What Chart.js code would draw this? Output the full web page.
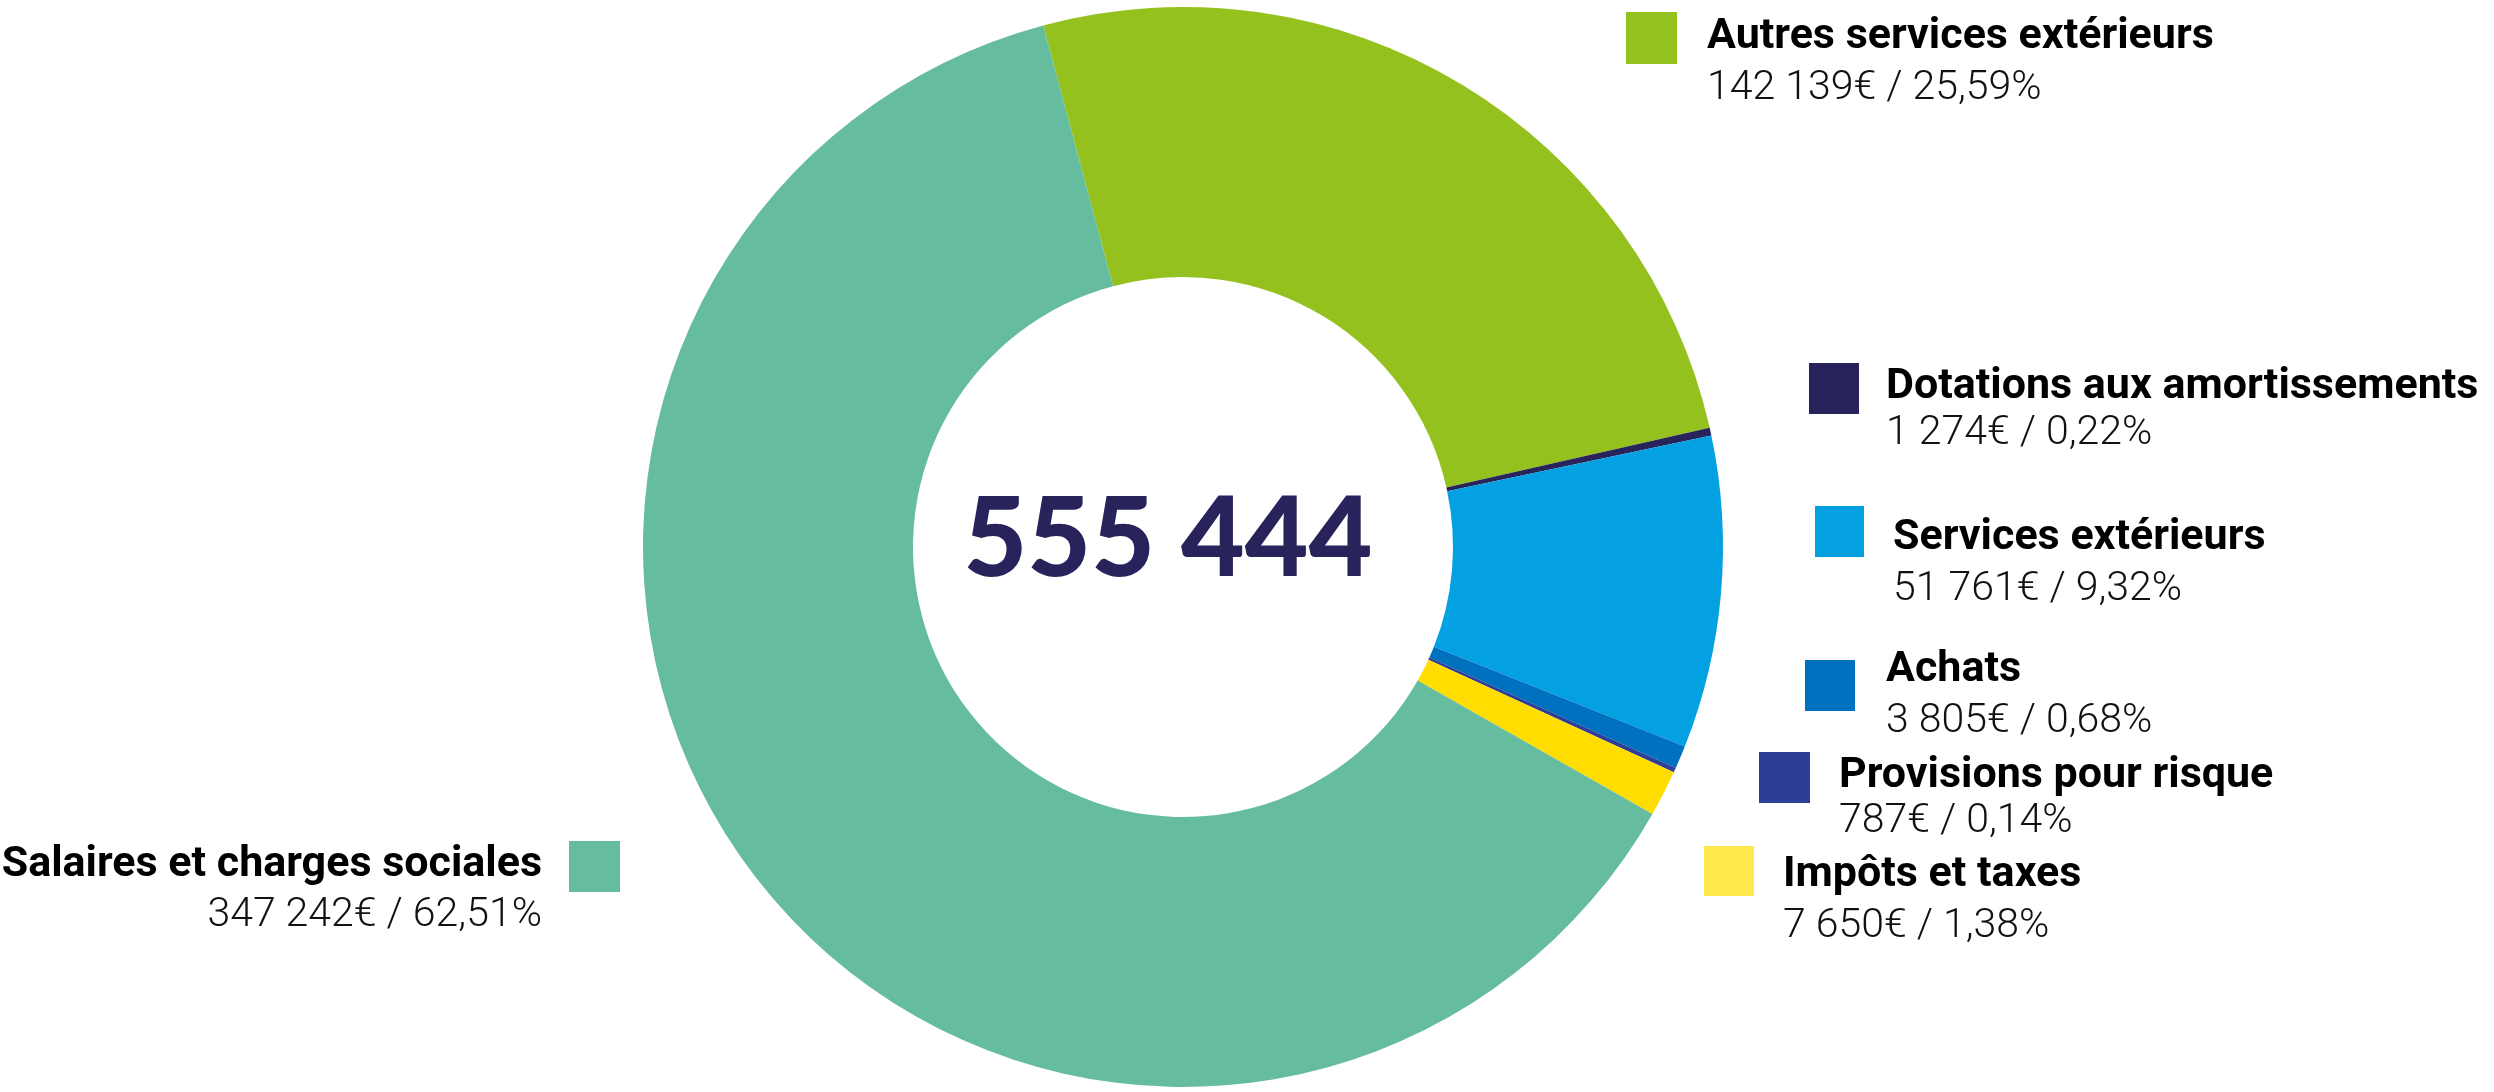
<!DOCTYPE html>
<html>
<head>
<meta charset="utf-8">
<script src="https://cdn.jsdelivr.net/npm/chart.js@4/dist/chart.umd.min.js"></script>
<style>
html,body{margin:0;padding:0;background:#ffffff;overflow:hidden}
#wrap{width:2494px;height:1092px;position:relative}
</style>
</head>
<body>
<div id="wrap"><canvas id="c" width="2494" height="1092"></canvas></div>
<script>
// ---- data ----
const categories = [
  'Autres services extérieurs',
  'Dotations aux amortissements',
  'Services extérieurs',
  'Achats',
  'Provisions pour risque',
  'Impôts et taxes',
  'Salaires et charges sociales'
];
const amounts = [142139, 1274, 51761, 3805, 787, 7650, 347242];
const percents = ['25,59', '0,22', '9,32', '0,68', '0,14', '1,38', '62,51'];
const totalLabel = '555 444';

// ---- styles ----
const sliceColors  = ['#95C11F', '#29235C', '#03A0E2', '#0071BF', '#2D3E98', '#FFDD00', '#66BC9F'];
const swatchColors = ['#95C11F', '#29235C', '#03A0E2', '#0071BF', '#2D3E98', '#FFE84C', '#66BC9F'];

// legend placement (pixels): swatch box, text x, title baseline, value baseline, alignment
const legendLayout = [
  {sx:1626, sy:12,  sw:51, sh:52, tx:1707, ty:48,  vy:99,  align:'left'},
  {sx:1809, sy:363, sw:50, sh:51, tx:1886, ty:398, vy:444, align:'left'},
  {sx:1815, sy:506, sw:49, sh:51, tx:1893, ty:549, vy:600, align:'left'},
  {sx:1805, sy:660, sw:50, sh:51, tx:1886, ty:681, vy:732, align:'left'},
  {sx:1759, sy:752, sw:51, sh:51, tx:1839, ty:787, vy:832, align:'left'},
  {sx:1704, sy:846, sw:50, sh:50, tx:1783, ty:886, vy:937, align:'left'},
  {sx:569,  sy:841, sw:51, sh:51, tx:542,  ty:876, vy:926, align:'right'}
];
const titleFont = 'bold 43px Roboto';
const valueFont = '300 41px Roboto';
const centerFont = '900 110px Lato';
const centerPos = {x:1168, y:576};

function fmt(n){ return String(n).replace(/\B(?=(\d{3})+(?!\d))/g, ' '); }

const labelPlugin = {
  id: 'manualLabels',
  afterDraw(chart){
    const ctx = chart.ctx;
    ctx.save();
    legendLayout.forEach((L, i) => {
      ctx.fillStyle = swatchColors[i];
      ctx.fillRect(L.sx, L.sy, L.sw, L.sh);
      ctx.textAlign = L.align;
      ctx.textBaseline = 'alphabetic';
      ctx.fillStyle = '#000000';
      ctx.font = titleFont;
      ctx.fillText(categories[i], L.tx, L.ty);
      ctx.fillStyle = '#111111';
      ctx.font = valueFont;
      ctx.fillText(fmt(amounts[i]) + '€ / ' + percents[i] + '%', L.tx, L.vy);
    });
    ctx.fillStyle = '#29235C';
    ctx.font = centerFont;
    ctx.textAlign = 'center';
    ctx.textBaseline = 'alphabetic';
    ctx.fillText(totalLabel, centerPos.x, centerPos.y);
    ctx.restore();
  }
};

new Chart(document.getElementById('c'), {
  type: 'doughnut',
  data: {
    labels: categories,
    datasets: [{
      data: amounts,
      backgroundColor: sliceColors,
      borderWidth: 0,
      hoverBorderWidth: 0,
      hoverOffset: 0
    }]
  },
  options: {
    responsive: false,
    animation: false,
    events: [],
    rotation: -15,
    cutout: '50%',
    layout: {padding: {left: 643, right: 771, top: 7, bottom: 5}},
    plugins: {legend: {display: false}, tooltip: {enabled: false}}
  },
  plugins: [labelPlugin]
});
</script>
</body>
</html>
